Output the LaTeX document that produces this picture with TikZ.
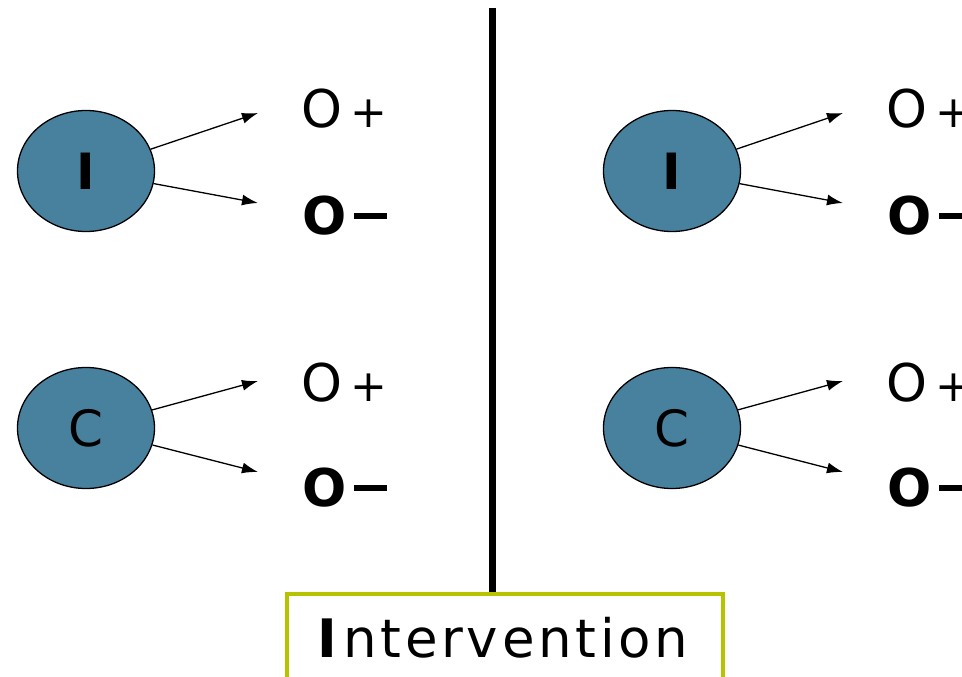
\documentclass[tikz,border=0pt]{standalone}
\usepackage{fontspec}
\setmainfont{DejaVu Sans}
\usetikzlibrary{shapes.geometric,arrows.meta}
\definecolor{ellfill}{RGB}{72,129,158}
\definecolor{boxgreen}{RGB}{183,194,0}
\newcommand{\omin}{O\hspace{8pt}\rule[15pt]{33pt}{6.5pt}}
\newcommand{\oplu}{O\hspace{8pt}{\fontsize{44}{44}\selectfont +}}
\begin{document}
\begin{tikzpicture}[x=1pt,y=-1pt,
  ell/.style={ellipse,draw=black,line width=1.3pt,fill=ellfill,minimum width=137pt,minimum height=121pt,inner sep=0pt,font=\fontsize{50}{50}\selectfont},
  outp/.style={anchor=base west,inner sep=0pt,font=\fontsize{52}{52}\selectfont},
  outm/.style={anchor=base west,inner sep=0pt,font=\fontsize{52}{52}\selectfont\bfseries},
  arr/.style={-{Latex[length=16pt,width=11pt]},line width=1.3pt}]
\useasboundingbox (0,0) rectangle (962,677);
\clip (0,0) rectangle (962,677);
% divider
\coordinate (vtop) at (492,8);
\node[draw=boxgreen,line width=4pt,minimum width=436pt,minimum height=100pt,anchor=north west,inner sep=0pt] (box) at (285,592) {};
\node[anchor=base,inner sep=0pt,font=\fontsize{53}{53}\selectfont\addfontfeatures{LetterSpace=7}] (intv) at (503,657) {{\bfseries I}\hspace{6pt}ntervention};
\draw[line width=7pt] (vtop) -- (box.north -| vtop);
% left side
\node[ell] (iL) at (86,171) {\bfseries I};
\node[ell] (cL) at (86,428) {C};
\coordinate (iLa) at (258,113);
\coordinate (iLb) at (258,203);
\coordinate (cLa) at (258,381);
\coordinate (cLb) at (258,472);
\draw[arr] (iL) -- (iLa);
\draw[arr] (iL) -- (iLb);
\draw[arr] (cL) -- (cLa);
\draw[arr] (cL) -- (cLb);
\node[outp] (oLp1) at (301,128) {\oplu};
\node[outm] (oLm1) at (302,234) {\omin};
\node[outp] (oLp2) at (301,401) {\oplu};
\node[outm] (oLm2) at (302,506) {\omin};
% right side
\node[ell] (iR) at (672,171) {\bfseries I};
\node[ell] (cR) at (672,428) {C};
\coordinate (iRa) at (843,113);
\coordinate (iRb) at (843,203);
\coordinate (cRa) at (843,381);
\coordinate (cRb) at (843,472);
\draw[arr] (iR) -- (iRa);
\draw[arr] (iR) -- (iRb);
\draw[arr] (cR) -- (cRa);
\draw[arr] (cR) -- (cRb);
\node[outp] (oRp1) at (886,128) {\oplu};
\node[outm] (oRm1) at (887,234) {\omin};
\node[outp] (oRp2) at (886,401) {\oplu};
\node[outm] (oRm2) at (887,506) {\omin};
\end{tikzpicture}
\end{document}
